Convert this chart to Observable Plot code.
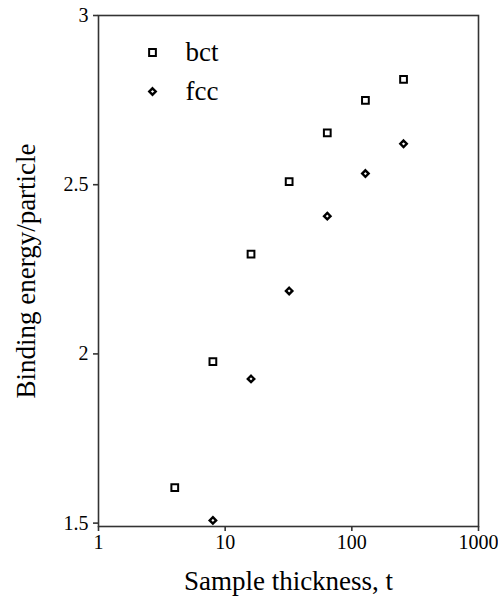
<!DOCTYPE html>
<html>
<head>
<meta charset="utf-8">
<script src="https://cdn.jsdelivr.net/npm/d3@7"></script>
<script src="https://cdn.jsdelivr.net/npm/@observablehq/plot@0.6"></script>
<style>
  html, body { margin: 0; padding: 0; background: #fff; }
  svg { display: block; }
</style>
</head>
<body>
<div id="chart"></div>
<script>
// Data
const bctThickness = [4, 8, 16, 32, 64, 128, 256];
const bctEnergy = [1.605, 1.977, 2.295, 2.509, 2.653, 2.749, 2.811];
const fccThickness = [8, 16, 32, 64, 128, 256];
const fccEnergy = [1.508, 1.926, 2.186, 2.407, 2.533, 2.621];
const seriesNames = ["bct", "fcc"];
const xTicks = [1, 10, 100, 1000];
const yTicks = [1.5, 2, 2.5, 3];
const xTitle = "Sample thickness, t";
const yTitle = "Binding energy/particle";

const bct = bctThickness.map((t, i) => ({t, e: bctEnergy[i], s: "bct"}));
const fcc = fccThickness.map((t, i) => ({t, e: fccEnergy[i], s: "fcc"}));

const font = "'Liberation Serif', 'Times New Roman', serif";
const ink = "#000";
const axisInk = "#333";

const chart = Plot.plot({
  width: 498,
  height: 605,
  marginLeft: 98,
  marginRight: 20,
  marginTop: 15,
  marginBottom: 79,
  style: {fontFamily: font, fontSize: "20px", color: ink, background: "#fff", overflow: "visible"},
  x: {type: "log", domain: [1, 1000]},
  y: {domain: [1.49, 3]},
  marks: [
    Plot.frame({stroke: axisInk, strokeWidth: 1.6}),
    Plot.axisX({ticks: xTicks, tickFormat: d => String(d), tickSize: 5, tickPadding: 3, stroke: axisInk, strokeWidth: 1.6, label: null, fontSize: 20}),
    Plot.axisY({ticks: yTicks, tickFormat: d => String(d), tickSize: 5, tickPadding: 5, stroke: axisInk, strokeWidth: 1.6, label: null, fontSize: 20}),
    Plot.dot(bct, {x: "t", y: "e", symbol: "square2", r: 4.3, stroke: ink, strokeWidth: 2, fill: "none"}),
    Plot.dot(fcc, {x: "t", y: "e", symbol: "diamond2", r: 2.9, stroke: ink, strokeWidth: 2.4, fill: "none"}),
    // legend
    Plot.dot([seriesNames[0]], {frameAnchor: "top-left", dx: 54, dy: 37, symbol: "square2", r: 4.3, stroke: ink, strokeWidth: 2, fill: "none"}),
    Plot.dot([seriesNames[1]], {frameAnchor: "top-left", dx: 54, dy: 76, symbol: "diamond2", r: 2.9, stroke: ink, strokeWidth: 2.4, fill: "none"}),
    Plot.text([seriesNames[0]], {frameAnchor: "top-left", dx: 87, dy: 37, text: d => d, textAnchor: "start", lineAnchor: "middle", fontSize: 27, fill: ink}),
    Plot.text([seriesNames[1]], {frameAnchor: "top-left", dx: 87, dy: 76, text: d => d, textAnchor: "start", lineAnchor: "middle", fontSize: 27, fill: ink}),
    // axis titles
    Plot.text([xTitle], {frameAnchor: "bottom", dy: 55, text: d => d, textAnchor: "middle", lineAnchor: "middle", fontSize: 27, fill: ink}),
    Plot.text([yTitle], {frameAnchor: "left", dx: -72, text: d => d, rotate: -90, textAnchor: "middle", lineAnchor: "middle", fontSize: 27, fill: ink})
  ]
});
document.getElementById("chart").appendChild(chart);
</script>
</body>
</html>
